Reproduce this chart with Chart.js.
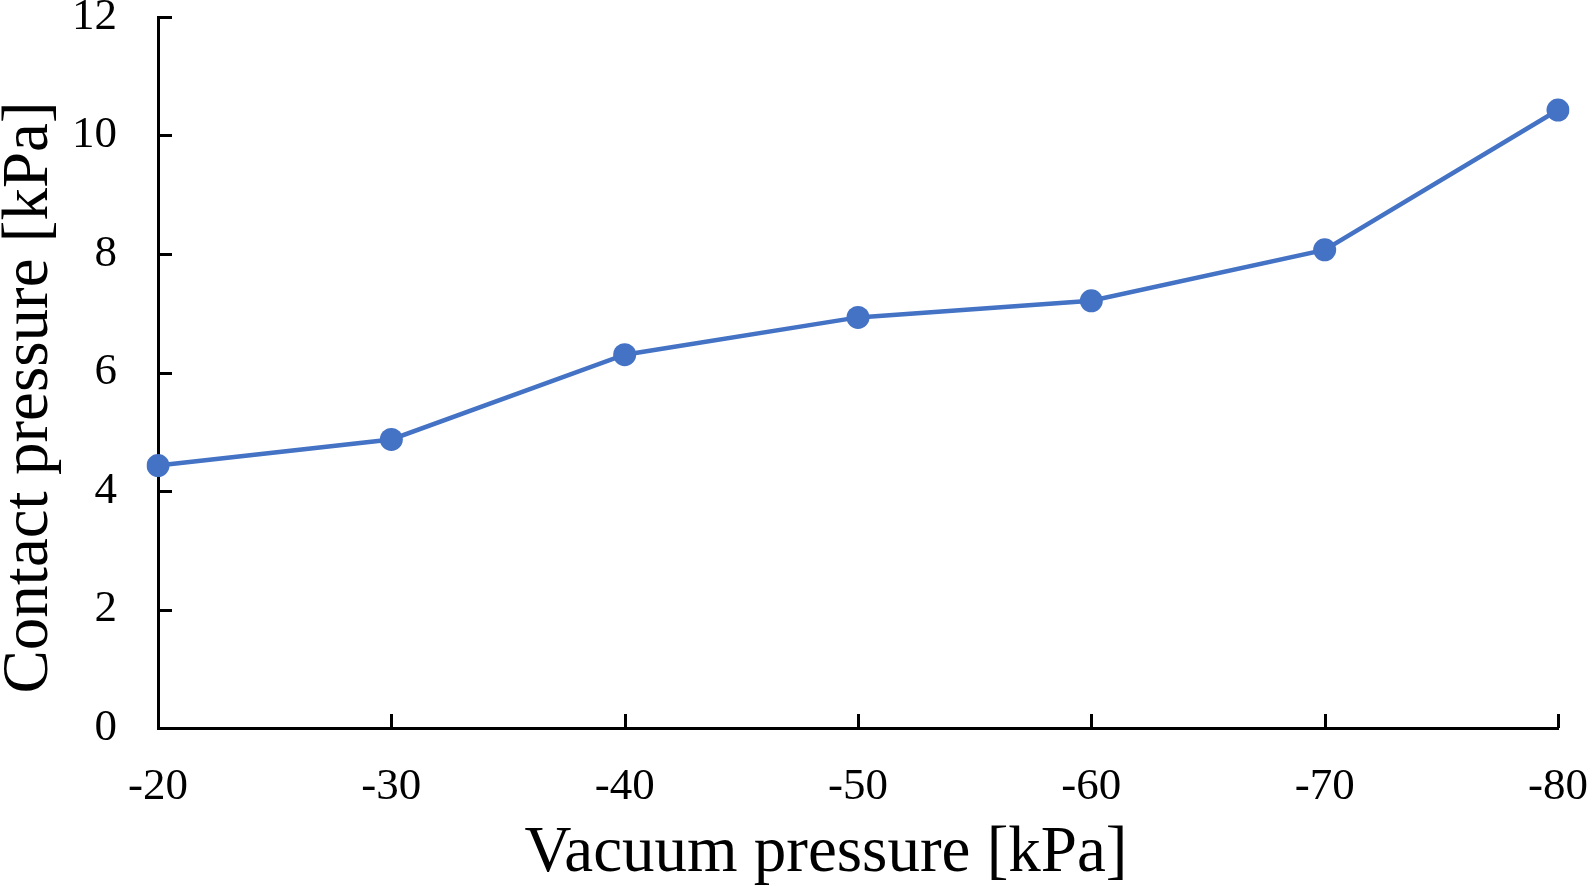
<!DOCTYPE html>
<html>
<head>
<meta charset="utf-8">
<script src="https://cdn.jsdelivr.net/npm/chart.js@4/dist/chart.umd.min.js"></script>
<style>
  html, body { margin: 0; padding: 0; background: #fff; }
  #wrap { width: 1594px; height: 886px; }
</style>
</head>
<body>
<div id="wrap"><canvas id="chart" width="1594" height="886"></canvas></div>
<script>
// values
const vacuumLabels = ['-20', '-30', '-40', '-50', '-60', '-70', '-80'];
const contactPressure = [4.43, 4.87, 6.30, 6.93, 7.21, 8.07, 10.43];
const yTicks = [0, 2, 4, 6, 8, 10, 12];

const xTitle = 'Vacuum pressure [kPa]';
const yTitle = 'Contact pressure [kPa]';

const FONT = "'Liberation Serif', 'Times New Roman', serif";
const BLUE = '#4472C4';
const TICK_LEN = 14;

// inward tick marks + axis titles (titles are not centred on the plot area in the reference)
const axisExtras = {
  id: 'axisExtras',
  beforeDatasetsDraw(chart) {
    const { ctx, chartArea, scales } = chart;
    ctx.save();
    ctx.strokeStyle = '#000';
    ctx.lineWidth = 3;
    ctx.beginPath();
    scales.y.ticks.forEach((t, i) => {
      const y = Math.round(scales.y.getPixelForTick(i)) + 0.5;
      ctx.moveTo(chartArea.left, y);
      ctx.lineTo(chartArea.left + TICK_LEN, y);
    });
    scales.x.ticks.forEach((t, i) => {
      const x = Math.round(scales.x.getPixelForTick(i)) + 0.5;
      ctx.moveTo(x, chartArea.bottom);
      ctx.lineTo(x, chartArea.bottom - TICK_LEN);
    });
    ctx.stroke();
    ctx.restore();
  },
  afterDraw(chart) {
    const { ctx, chartArea } = chart;
    ctx.save();
    ctx.fillStyle = '#000';
    ctx.font = '65px ' + FONT;
    ctx.textAlign = 'center';
    ctx.textBaseline = 'alphabetic';
    ctx.fillText(xTitle, (chartArea.left + chartArea.right) / 2 - 32, chart.height - 15);
    ctx.translate(47, (chartArea.top + chartArea.bottom) / 2 + 25);
    ctx.rotate(-Math.PI / 2);
    ctx.fillText(yTitle, 0, 0);
    ctx.restore();
  }
};

new Chart(document.getElementById('chart'), {
  type: 'line',
  data: {
    labels: vacuumLabels,
    datasets: [{
      data: contactPressure,
      borderColor: BLUE,
      backgroundColor: BLUE,
      borderWidth: 4.5,
      pointRadius: 11.5,
      pointHoverRadius: 11.5,
      pointBorderWidth: 0,
      tension: 0
    }]
  },
  options: {
    responsive: false,
    animation: false,
    layout: { padding: { top: 17, right: 36, left: 0, bottom: 0 } },
    plugins: { legend: { display: false }, tooltip: { enabled: false } },
    scales: {
      x: {
        type: 'category',
        offset: false,
        border: { display: true, color: '#000', width: 3 },
        grid: { display: false, drawTicks: false, tickLength: 0 },
        ticks: { color: '#000', font: { family: FONT, size: 45 }, padding: 32, maxRotation: 0, autoSkip: false },
        afterFit(scale) {
          scale.height = 158;
          scale.paddingLeft = 0;
          scale.paddingRight = 0;
        }
      },
      y: {
        min: 0,
        max: 12,
        afterBuildTicks(scale) { scale.ticks = yTicks.map(v => ({ value: v })); },
        border: { display: true, color: '#000', width: 3 },
        grid: { display: false, drawTicks: false, tickLength: 0 },
        ticks: { color: '#000', font: { family: FONT, size: 45 }, padding: 41 },
        afterFit(scale) {
          scale.width = 158;
          scale.paddingTop = 0;
          scale.paddingBottom = 0;
        }
      }
    }
  },
  plugins: [axisExtras]
});
</script>
</body>
</html>
